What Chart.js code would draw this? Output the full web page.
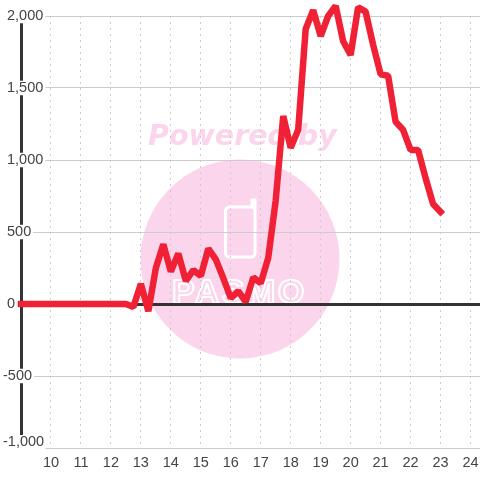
<!DOCTYPE html>
<html lang="en">

<head>
    <meta charset="UTF-8">
    <title>Chart</title>
    <script src="https://cdn.jsdelivr.net/npm/chart.js"></script>
    <style>
        html, body { margin: 0; padding: 0; background: #fff; }
        canvas { display: block; }
    </style>
</head>

<body>
    <canvas id="myChart" width="480" height="480"></canvas>

    <script>
        const hours = [
            9, 9.25, 9.5, 9.75, 10, 10.25, 10.5, 10.75, 11, 11.25, 11.5, 11.75,
            12, 12.25, 12.5, 12.75, 13, 13.25, 13.5, 13.75, 14, 14.25, 14.5, 14.75,
            15, 15.25, 15.5, 15.75, 16, 16.25, 16.5, 16.75, 17, 17.25, 17.5, 17.75,
            18, 18.25, 18.5, 18.75, 19, 19.25, 19.5, 19.75, 20, 20.25, 20.5, 20.75,
            21, 21.25, 21.5, 21.75, 22, 22.25, 22.5, 22.75, 23
        ];
        const values = [
            0, 0, 0, 0, 0, 0, 0, 0, 0, 0, 0, 0,
            0, 0, 0, -20, 140, -50, 250, 415, 225, 350, 160, 235,
            195, 385, 310, 180, 40, 90, 15, 185, 145, 320, 720, 1305,
            1085, 1210, 1910, 2040, 1860, 2000, 2070, 1825, 1730, 2060, 2030, 1800,
            1595, 1585, 1265, 1210, 1070, 1070, 875, 695, 640
        ];
        const yTickValues = [2000, 1500, 1000, 500, 0, -500];
        const yTickLabels = ["2,000", "1,500", "1,000", "500", "0", "-500"];
        const yBottomLabel = "-1,000";
        const xTickLabels = ["10", "11", "12", "13", "14", "15", "16", "17", "18", "19", "20", "21", "22", "23", "24"];

        const points = hours.map(function (h, i) {
            return { x: h, y: values[i] };
        });

        // pink logo behind the grid
        const watermark = {
            id: "watermark",
            beforeDraw(chart) {
                const ctx = chart.ctx;
                ctx.save();
                ctx.fillStyle = "#fbd5ec";
                ctx.beginPath();
                ctx.arc(240, 259, 99.5, 0, Math.PI * 2);
                ctx.fill();

                ctx.font = "italic bold 28.5px 'DejaVu Sans'";
                ctx.textAlign = "left";
                ctx.textBaseline = "alphabetic";
                ctx.fillText("Powered by", 148, 145);

                ctx.strokeStyle = "#fff";
                ctx.lineWidth = 3;
                ctx.lineJoin = "round";
                ctx.beginPath();
                ctx.roundRect(225.5, 207, 29.5, 50, 4);
                ctx.moveTo(255, 212);
                ctx.lineTo(255, 200);
                ctx.lineTo(252, 200);
                ctx.lineTo(252, 207);
                ctx.stroke();

                ctx.lineWidth = 2;
                ctx.letterSpacing = "2.5px";
                ctx.font = "bold 34px 'Liberation Sans'";
                ctx.strokeText("PASMO", 172, 303);
                ctx.restore();
            }
        };

        // the bottom label sits above its gridline, the scale can't place it there
        const bottomLabel = {
            id: "bottomLabel",
            afterDatasetsDraw(chart) {
                const ctx = chart.ctx;
                const y = chart.scales.y.getPixelForValue(-1000);
                ctx.save();
                ctx.fillStyle = "#fff";
                ctx.fillRect(2, y - 13, 43.5, 14);
                ctx.fillStyle = "#444";
                ctx.font = "14.5px 'Liberation Sans'";
                ctx.textAlign = "left";
                ctx.textBaseline = "middle";
                ctx.fillText(yBottomLabel, 3, y - 6);
                ctx.restore();
            }
        };

        new Chart(document.getElementById("myChart"), {
            type: "line",
            data: {
                datasets: [{
                    data: points,
                    borderColor: "#f02035",
                    borderWidth: 6.5,
                    borderCapStyle: "square",
                    borderJoinStyle: "bevel",
                    pointRadius: 0,
                    tension: 0,
                    fill: false,
                    clip: false
                }]
            },
            options: {
                responsive: false,
                animation: false,
                layout: { padding: { top: 16, left: 0, right: 0, bottom: 0 } },
                plugins: {
                    legend: { display: false },
                    title: { display: false },
                    tooltip: { enabled: false }
                },
                scales: {
                    x: {
                        type: "linear",
                        min: 9,
                        max: 24.3167,
                        afterFit(scale) {
                            scale.height = 32;
                            scale.paddingLeft = 0;
                            scale.paddingRight = 0;
                        },
                        grid: {
                            color: "#ccc",
                            lineWidth: 1,
                            drawTicks: false
                        },
                        border: { display: true, color: "#ccc", width: 1, dash: [2, 4] },
                        ticks: {
                            stepSize: 1,
                            includeBounds: false,
                            autoSkip: false,
                            maxRotation: 0,
                            padding: 6,
                            color: "#444",
                            font: { family: "'Liberation Sans'", size: 14.5 },
                            callback(v) {
                                const i = xTickLabels.indexOf(String(v));
                                return i < 0 ? null : xTickLabels[i];
                            }
                        }
                    },
                    y: {
                        type: "linear",
                        min: -1000,
                        max: 2000,
                        afterFit(scale) {
                            scale.width = 21;
                        },
                        grid: {
                            color(c) {
                                return c.tick.value === 0 ? "#333" : "#ccc";
                            },
                            lineWidth(c) {
                                return c.tick.value === 0 ? 3 : 1;
                            },
                            drawTicks: false
                        },
                        border: { display: true, color: "#333", width: 3 },
                        ticks: {
                            stepSize: 250,
                            autoSkip: false,
                            mirror: true,
                            padding: -18,
                            color: "#444",
                            font: { family: "'Liberation Sans'", size: 14.5, lineHeight: 1 },
                            showLabelBackdrop: true,
                            backdropColor: "#fff",
                            backdropPadding: { left: 0, right: 2, top: 0, bottom: 0 },
                            callback(v) {
                                const i = yTickValues.indexOf(v);
                                if (i < 0) return null;
                                return v < 0 ? yTickLabels[i] : " " + yTickLabels[i];
                            }
                        }
                    }
                }
            },
            plugins: [watermark, bottomLabel]
        });
    </script>
</body>

</html>
